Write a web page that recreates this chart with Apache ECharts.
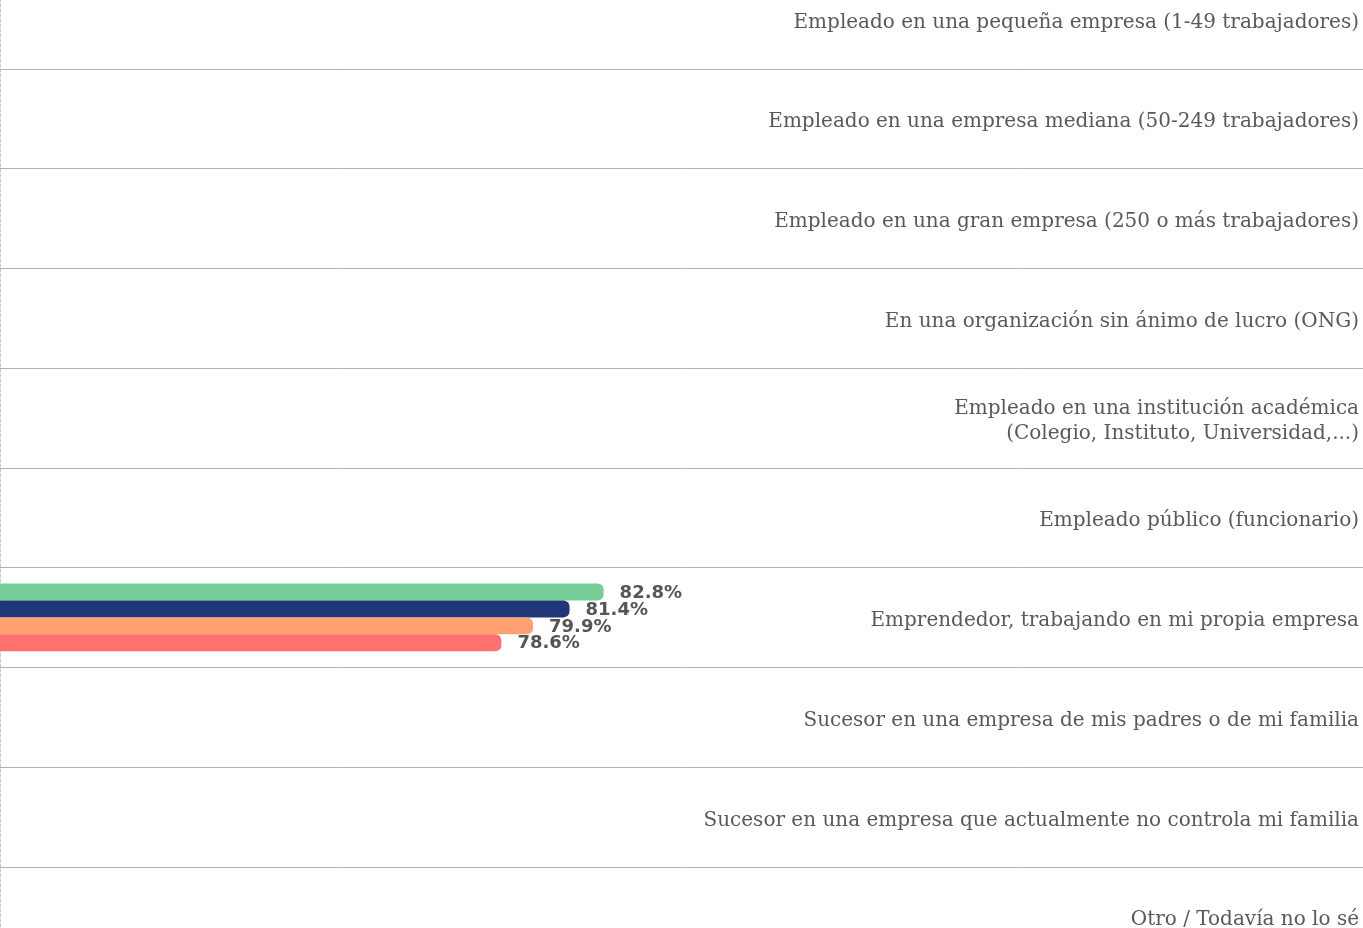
<!DOCTYPE html>
<html>
<head>
<meta charset="utf-8">
<script src="https://cdn.jsdelivr.net/npm/echarts@6/dist/echarts.min.js"></script>
<style>
html,body{margin:0;padding:0;background:#fff;}
#chart{width:1363px;height:928px;}
</style>
</head>
<body>
<div id="chart"></div>
<script>
const categories = [
  "Empleado en una pequeña empresa (1-49 trabajadores)",
  "Empleado en una empresa mediana (50-249 trabajadores)",
  "Empleado en una gran empresa (250 o más trabajadores)",
  "En una organización sin ánimo de lucro (ONG)",
  "Empleado en una institución académica\n(Colegio, Instituto, Universidad,...)",
  "Empleado público (funcionario)",
  "Emprendedor, trabajando en mi propia empresa",
  "Sucesor en una empresa de mis padres o de mi familia",
  "Sucesor en una empresa que actualmente no controla mi familia",
  "Otro / Todavía no lo sé"
];
const seriesNames = ["Serie 1", "Serie 2", "Serie 3", "Serie 4"];
const seriesColors = ["#75CE97", "#1F3776", "#FFA073", "#FF7070"];
const serie1 = [null, null, null, null, null, null, 82.8, null, null, null];
const serie2 = [null, null, null, null, null, null, 81.4, null, null, null];
const serie3 = [null, null, null, null, null, null, 79.9, null, null, null];
const serie4 = [null, null, null, null, null, null, 78.6, null, null, null];
const seriesValues = [serie1, serie2, serie3, serie4];

const chart = echarts.init(document.getElementById('chart'), null, {renderer: 'canvas'});
chart.setOption({
  animation: false,
  backgroundColor: '#ffffff',
  grid: {left: 0, right: 0, top: -31, height: 997.5, containLabel: false, outerBoundsMode: 'none'},
  xAxis: {
    type: 'value', min: 58, max: 114,
    show: false
  },
  yAxis: [{
    type: 'category', data: categories, inverse: true, position: 'right',
    axisLine: {show: false}, axisTick: {show: false},
    axisLabel: {
      inside: true, margin: 4, align: 'right',
      formatter: v => v.split('\n').map(s => '{a|' + s + '}').join('\n'),
      rich: {
        a: {color: '#595959', fontFamily: 'DejaVu Serif', fontSize: 20, lineHeight: 25, padding: [7, 0, 0, 0]}
      }
    },
    splitLine: {show: true, lineStyle: {color: '#b3b3b3', width: 1}},
    z: 5
  }, {
    type: 'category', data: categories, inverse: true, position: 'left',
    axisLine: {show: true, lineStyle: {color: '#c8c8c8', type: [3, 2], width: 1}},
    axisTick: {show: false}, axisLabel: {show: false}, splitLine: {show: false}
  }],
  series: seriesValues.map((vals, i) => ({
    name: seriesNames[i],
    type: 'bar',
    data: vals,
    barGap: '0%',
    barCategoryGap: '32%',
    itemStyle: {color: seriesColors[i], borderRadius: [0, 6, 6, 0]},
    label: {
      show: true, position: 'right', distance: 16, offset: [0, 1],
      formatter: p => p.value.toFixed(1) + '%',
      fontFamily: 'DejaVu Sans', fontWeight: 'bold', fontSize: 18, color: '#555555'
    }
  }))
});
</script>
</body>
</html>
